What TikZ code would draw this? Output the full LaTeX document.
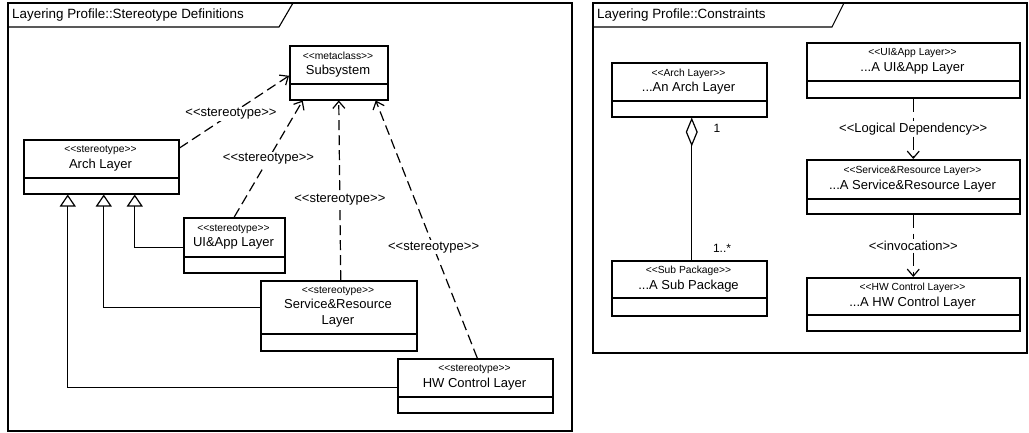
\documentclass[tikz,border=0pt]{standalone}
\usepackage{fontspec}
\setmainfont{Liberation Sans}
\usetikzlibrary{arrows.meta}

% guillemet-style brackets written as two separate characters
\newcommand\Lg{<\kern0pt<}
\newcommand\Rg{>\kern0pt>}

\tikzset{
  x=1pt, y=-1pt,
  frameline/.style={line width=1.1pt},
  classbox/.style={draw, line width=1.5pt, fill=white, inner sep=0pt},
  divider/.style={line width=1.5pt},
  boxtext/.style={align=center, inner sep=0pt, font=\fontsize{13}{15.5}\selectfont},
  titletext/.style={anchor=west, inner sep=0pt, font=\fontsize{13.4}{16}\selectfont},
  connlabel/.style={fill=white, inner sep=1.5pt, font=\fontsize{13}{15.5}\selectfont},
  multlabel/.style={inner sep=0pt, font=\fontsize{12}{14}\selectfont},
  extends/.style={line width=1.2pt, dash pattern=on 10pt off 5pt,
    -{Straight Barb[length=7pt,width=12pt]}},
  dependency/.style={line width=1.2pt, dash pattern=on 13pt off 6pt,
    -{Straight Barb[length=7pt,width=12pt]}},
  generalization/.style={line width=1.2pt,
    -{Triangle[open,length=12pt,width=16pt,fill=white]}},
  aggregation/.style={line width=1.2pt,
    {Diamond[open,length=29pt,width=12pt,fill=white]}-},
}

% class box: name, x1, y1, x2, y2, divider y, stereotype, name text
\newcommand\umlclass[8]{%
  \pgfmathsetmacro\cw{#4-#2}%
  \pgfmathsetmacro\ch{#5-#3}%
  \pgfmathsetmacro\cx{(#2+#4)/2}%
  \pgfmathsetmacro\cy{(#3+#6)/2}%
  \node[classbox, anchor=north west, minimum width=\cw pt, minimum height=\ch pt] (#1) at (#2,#3) {};
  \draw[divider] (#2,#6) -- (#4,#6);
  \node[boxtext] (#1-text) at (\cx,\cy) {{\fontsize{10.3}{11}\selectfont\Lg #7\Rg}\\#8};
}

\begin{document}
\begin{tikzpicture}
\useasboundingbox (0,0) rectangle (1029,432);

% ---------- left frame: stereotype definitions ----------
\draw[frameline] (8,3) rectangle (572,431);
\draw[frameline] (8,27) -- (279,27) -- (293,3);
\node[titletext] (lefttitle) at (12,15) {Layering Profile::Stereotype Definitions};

\umlclass{sub}{289}{45}{387}{99}{84}{metaclass}{Subsystem}
\umlclass{arch}{23}{139}{178}{193}{178}{stereotype}{Arch Layer}
\umlclass{ui}{183}{217}{284}{272}{257}{stereotype}{UI\&App Layer}
\umlclass{sr}{260}{280}{416}{350}{334}{stereotype}{Service\&Resource\\Layer}
\umlclass{hw}{397}{358}{552}{412}{397}{stereotype}{HW Control Layer}

% generalizations to Arch Layer
\draw[generalization] ([yshift=-2.5pt]ui.west) -| ([xshift=33.5pt]arch.south);
\draw[generalization] ([yshift=8pt]sr.west) -| ([xshift=2.5pt]arch.south);
\draw[generalization] ([yshift=-2pt]hw.west) -| ([xshift=-33.5pt]arch.south);

% stereotype extensions of the metaclass
\draw[extends] ([yshift=-9pt]arch.north east) -- node[connlabel, pos=0.47] (l1) {\Lg stereotype\Rg} ([yshift=-3pt]sub.west);
\draw[extends] (ui.north) -- node[connlabel, pos=0.5] (l2) {\Lg stereotype\Rg} ([xshift=-36pt]sub.south);
\draw[extends] ([xshift=2pt]sr.north) -- node[connlabel, pos=0.45] (l3) {\Lg stereotype\Rg} (sub.south);
\draw[extends] ([xshift=2pt]hw.north) -- node[connlabel, pos=0.43] (l4) {\Lg stereotype\Rg} ([xshift=37pt]sub.south);

% ---------- right frame: constraints ----------
\draw[frameline] (593,3) rectangle (1027,353);
\draw[frameline] (593,27) -- (832,27) -- (844,3);
\node[titletext] (righttitle) at (597,15) {Layering Profile::Constraints};

\umlclass{aal}{611}{62}{766}{116}{101}{Arch Layer}{...An Arch Layer}
\umlclass{asp}{611}{260}{766}{315}{298}{Sub Package}{...A Sub Package}
\umlclass{aui}{806}{42}{1019}{97}{81}{UI\&App Layer}{...A UI\&App Layer}
\umlclass{asr}{806}{159}{1019}{213}{199}{Service\&Resource Layer}{...A Service\&Resource Layer}
\umlclass{ahw}{806}{277}{1019}{330}{315}{HW Control Layer}{...A HW Control Layer}

% aggregation with multiplicities
\draw[aggregation] ([xshift=2.5pt]aal.south) -- ([xshift=2.5pt]aal.south |- asp.north);
\node[multlabel] (mone) at (717,128) {1};
\node[multlabel] (mmany) at (722,248) {1..*};

% dependencies between layers
\draw[dependency] (aui.south) -- node[connlabel] (d1) {\Lg Logical Dependency\Rg} (asr.north);
\draw[dependency] (asr.south) -- node[connlabel] (d2) {\Lg invocation\Rg} (ahw.north);
\end{tikzpicture}
\end{document}
